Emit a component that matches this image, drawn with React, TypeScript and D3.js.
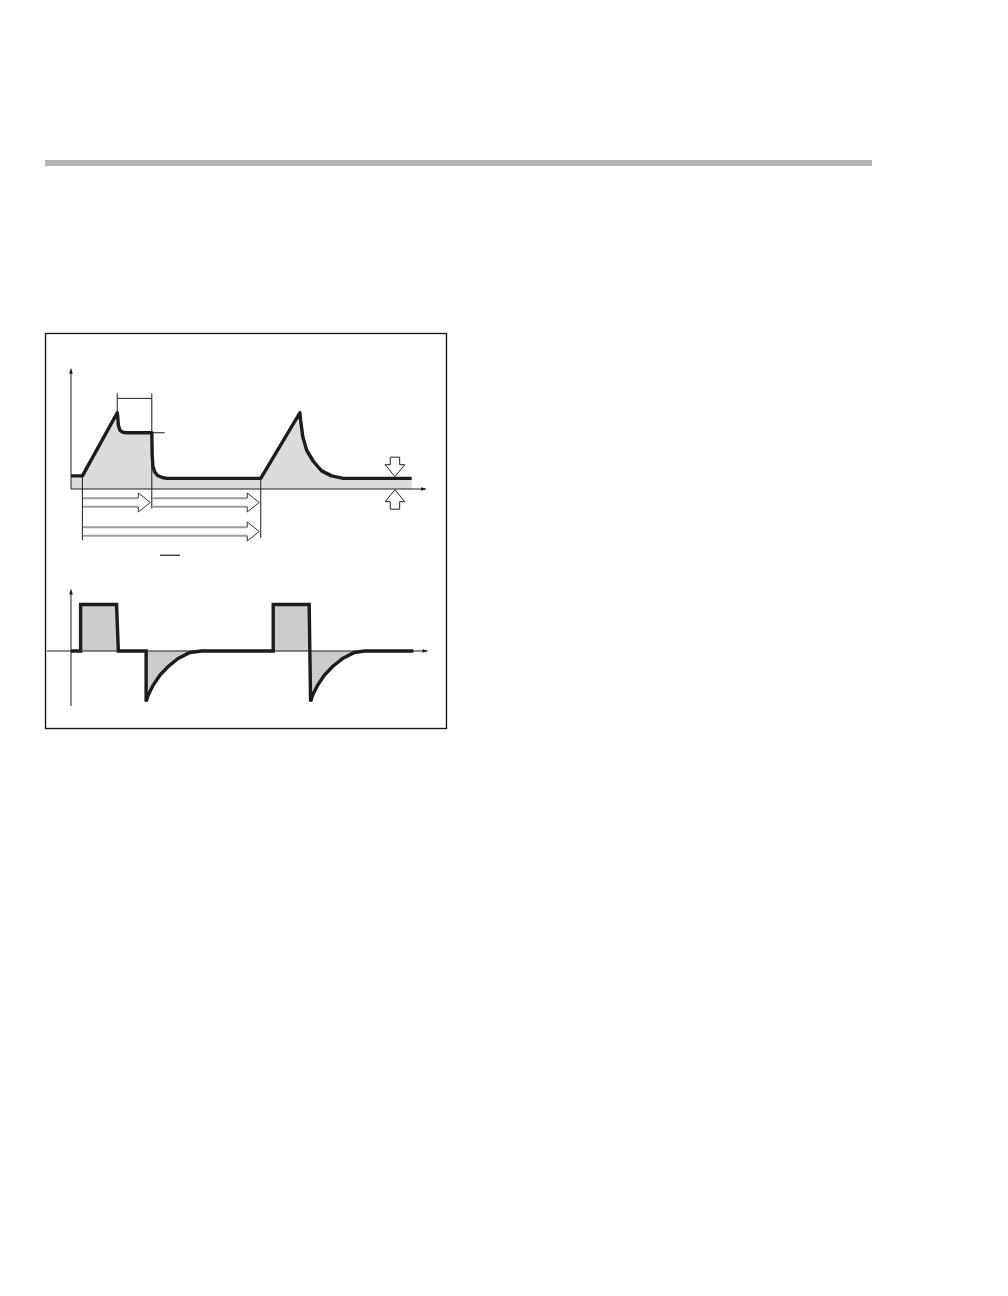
import React from "react";
import { scaleLinear, line, area, curveLinear } from "d3";

// top chart: time (arbitrary units) and level
const topT = [0, 3.2, 13.0, 13.15, 13.3, 13.75, 14.5, 15.4, 22.7, 22.8, 23.0, 23.45, 24.3, 25.6, 27.0, 53.3, 64.3, 64.5, 65.1, 66.2, 68.1, 70.4, 73.2, 76.5, 95.7];
const topV = [1.05, 1.05, 6.1, 5.7, 5.1, 4.7, 4.55, 4.5, 4.5, 2.7, 1.85, 1.4, 1.08, 0.92, 0.85, 0.85, 6.1, 5.5, 4.2, 3.1, 2.2, 1.45, 1.05, 0.85, 0.85];

// bottom chart: derivative-like signal
const botT = [0, 2.7, 2.7, 12.8, 13.3, 21.1, 21.1, 21.7, 23.1, 25.0, 27.3, 30.1, 33.4, 36.7, 56.8, 56.8, 66.9, 67.3, 67.9, 69.3, 71.2, 73.5, 76.3, 79.6, 82.5, 96.2];
const botV = [0, 0, 0.93, 0.93, 0, 0, -1.01, -0.88, -0.68, -0.48, -0.31, -0.15, -0.03, 0, 0, 0.93, 0.93, -1.01, -0.88, -0.68, -0.48, -0.31, -0.15, -0.03, 0, 0];

// annotation marks (top chart units)
const bracketT = [13.0, 22.7];
const bracketTopV = 7.65;
const bracketBarV = 7.25;
const plateauTickT = [22.7, 26.3];
const plateauV = 4.5;
const spanLinesT = [3.2, 53.3];
const spanLinesBottomV = [-4.1, -3.9];
const row1Arrows = [
  [3.2, 22.7],
  [22.7, 53.3],
];
const row1V = -1.08;
const row2Arrows = [[3.2, 53.3]];
const row2V = -3.4;
const offsetMarkT = 91;
const offsetLevels = [0.85, 0];
const fractionBarT = [25, 30.6];
const fractionBarV = -5.3;

const W = 1008;
const H = 1296;
const ink = "#1c1c1c";

const x = scaleLinear().domain([0, 100]).range([71, 427]);
const yTop = scaleLinear().domain([0, 10]).range([489, 364]);
const yBot = scaleLinear().domain([-1.2, 1.2]).range([711, 591]);

function HollowArrow({ x0, x1, yc }: { x0: number; x1: number; yc: number }) {
  const bh = 4.2;
  const hh = 9.5;
  const hl = 12;
  const bx = x1 - hl;
  return (
    <g>
      <line x1={x0} x2={bx} y1={yc - bh} y2={yc - bh} stroke="#9c9c9c" strokeWidth={2} />
      <line x1={x0} x2={bx} y1={yc + bh} y2={yc + bh} stroke="#9c9c9c" strokeWidth={2} />
      <path
        d={`M${bx},${yc - bh}L${bx},${yc - hh}L${x1},${yc}L${bx},${yc + hh}L${bx},${yc + bh}`}
        fill="#fff"
        stroke="#333"
        strokeWidth={1}
      />
    </g>
  );
}

function BlockArrow({ cx, tip, dir }: { cx: number; tip: number; dir: 1 | -1 }) {
  // dir 1 = pointing down, -1 = pointing up
  const sw = 4.7;
  const hw = 9.8;
  const hl = 12;
  const sl = 7.5;
  const hb = tip - dir * hl;
  const top = hb - dir * sl;
  const d = `M${cx - sw},${top}L${cx + sw},${top}L${cx + sw},${hb}L${cx + hw},${hb}L${cx},${tip}L${cx - hw},${hb}L${cx - sw},${hb}Z`;
  return <path d={d} fill="#fff" stroke="#222" strokeWidth={1} />;
}

function AxisArrow({ px, py, dir }: { px: number; py: number; dir: "up" | "right" }) {
  const d =
    dir === "up"
      ? `M${px},${py}L${px - 1.8},${py + 6}L${px + 1.8},${py + 6}Z`
      : `M${px},${py}L${px - 6},${py - 1.8}L${px - 6},${py + 1.8}Z`;
  return <path d={d} fill={ink} />;
}

export default function App() {
  const topPts = topT.map((t, i) => [t, topV[i]] as [number, number]);
  const botPts = botT.map((t, i) => [t, botV[i]] as [number, number]);

  const topLine = line<[number, number]>()
    .x((d) => x(d[0]))
    .y((d) => yTop(d[1]))
    .curve(curveLinear);
  const topArea = area<[number, number]>()
    .x((d) => x(d[0]))
    .y0(yTop(0))
    .y1((d) => yTop(d[1]));
  const botLine = line<[number, number]>()
    .x((d) => x(d[0]))
    .y((d) => yBot(d[1]));
  const botArea = area<[number, number]>()
    .x((d) => x(d[0]))
    .y0(yBot(0))
    .y1((d) => yBot(d[1]));

  return (
    <svg
      width={W}
      height={H}
      style={{ position: "absolute", left: 0, top: 0, background: "#fff" }}
    >
      {/* header rule */}
      <rect x={45} y={160} width={827} height={6} fill="#b3b3b3" />

      {/* frame */}
      <rect x={45.5} y={333.5} width={401} height={395} fill="none" stroke="#111" strokeWidth={1.3} />

      {/* ---------- top chart ---------- */}
      <path d={topArea(topPts) || ""} fill="#dcdcdc" />
      {/* axes */}
      <line x1={x(0)} x2={x(0)} y1={yTop(0)} y2={yTop(9.5)} stroke={ink} strokeWidth={1} />
      <AxisArrow px={x(0)} py={yTop(9.7)} dir="up" />
      <line x1={x(0)} x2={x(100) - 2} y1={yTop(0)} y2={yTop(0)} stroke={ink} strokeWidth={1} />
      <AxisArrow px={x(100)} py={yTop(0)} dir="right" />

      {/* bracket over peak */}
      <line x1={x(bracketT[0])} x2={x(bracketT[0])} y1={yTop(bracketTopV)} y2={yTop(6.1)} stroke={ink} strokeWidth={1} />
      <line x1={x(bracketT[1])} x2={x(bracketT[1])} y1={yTop(bracketTopV)} y2={yTop(-1.55)} stroke={ink} strokeWidth={1} />
      <line x1={x(bracketT[0])} x2={x(bracketT[1])} y1={yTop(bracketBarV)} y2={yTop(bracketBarV)} stroke={ink} strokeWidth={1} />
      <line x1={x(plateauTickT[0])} x2={x(plateauTickT[1])} y1={yTop(plateauV)} y2={yTop(plateauV)} stroke={ink} strokeWidth={1} />

      {/* span lines */}
      {spanLinesT.map((t, i) => (
        <line
          key={t}
          x1={x(t)}
          x2={x(t)}
          y1={yTop(i === 0 ? 1.05 : 0.85)}
          y2={yTop(spanLinesBottomV[i])}
          stroke={ink}
          strokeWidth={1}
        />
      ))}

      {/* main curve */}
      <path
        d={topLine(topPts) || ""}
        fill="none"
        stroke={ink}
        strokeWidth={3.4}
        strokeLinejoin="round"
      />

      {/* hollow arrows */}
      {row1Arrows.map(([a, b]) => (
        <HollowArrow key={`r1${a}`} x0={x(a) + 0.5} x1={x(b) - 1.5} yc={yTop(row1V)} />
      ))}
      {row2Arrows.map(([a, b]) => (
        <HollowArrow key={`r2${a}`} x0={x(a) + 0.5} x1={x(b) - 1.5} yc={yTop(row2V)} />
      ))}

      {/* offset arrows */}
      <BlockArrow cx={x(offsetMarkT)} tip={yTop(offsetLevels[0]) - 1.7} dir={1} />
      <BlockArrow cx={x(offsetMarkT)} tip={yTop(offsetLevels[1]) + 0.7} dir={-1} />

      {/* fraction bar */}
      <line
        x1={x(fractionBarT[0])}
        x2={x(fractionBarT[1])}
        y1={yTop(fractionBarV)}
        y2={yTop(fractionBarV)}
        stroke={ink}
        strokeWidth={1.2}
      />

      {/* ---------- bottom chart ---------- */}
      <path d={botArea(botPts) || ""} fill="#cccccc" />
      <line x1={x(0)} x2={x(0)} y1={yBot(-1.1)} y2={yBot(1.2)} stroke={ink} strokeWidth={1} />
      <AxisArrow px={x(0)} py={yBot(1.25)} dir="up" />
      <line x1={x(-6.8)} x2={x(100.4) - 2} y1={yBot(0)} y2={yBot(0)} stroke={ink} strokeWidth={1} />
      <AxisArrow px={x(100.4)} py={yBot(0)} dir="right" />
      <path
        d={botLine(botPts) || ""}
        fill="none"
        stroke={ink}
        strokeWidth={3.4}
        strokeLinejoin="miter"
      />
    </svg>
  );
}
